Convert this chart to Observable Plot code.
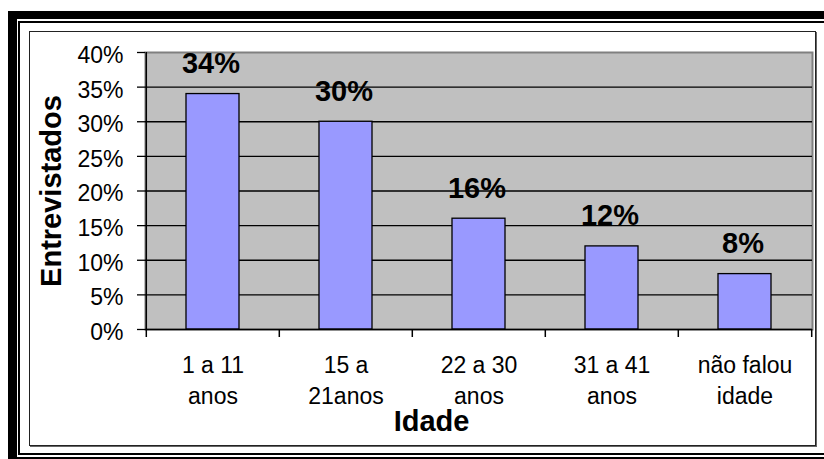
<!DOCTYPE html>
<html>
<head>
<meta charset="utf-8">
<script src="https://cdn.jsdelivr.net/npm/d3@7"></script>
<script src="https://cdn.jsdelivr.net/npm/@observablehq/plot@0.6"></script>
<style>
html, body { margin: 0; padding: 0; background: #fff; }
#wrap { position: relative; width: 824px; height: 459px; overflow: hidden; background: #fff; }
#wrap svg { position: absolute; left: 0; top: 0; }
.deco { position: absolute; box-sizing: content-box; pointer-events: none; z-index: 2; }
#thick { left: 8px; top: 11px; width: 900px; height: 438px; border-left: 9px solid #000; border-top: 8px solid #000; border-bottom: 8px solid #000; }
#thin { left: 18px; top: 21px; width: 900px; height: 430px; border-left: 2px solid #000; border-top: 2px solid #000; border-bottom: 2px solid #000; }
#box { left: 29px; top: 31px; width: 785px; height: 413px; border: 1px solid #222; box-shadow: 1px 1px 0 #666; }
</style>
</head>
<body>
<div id="wrap">
  <div class="deco" id="thick"></div>
  <div class="deco" id="thin"></div>
  <div class="deco" id="box"></div>
</div>
<script>
const categories = ["1 a 11\nanos", "15 a\n21anos", "22 a 30\nanos", "31 a 41\nanos", "não falou\nidade"];
const values = [0.34, 0.30, 0.16, 0.12, 0.08];
const valueLabels = ["34%", "30%", "16%", "12%", "8%"];
const yTicks = [0, 0.05, 0.10, 0.15, 0.20, 0.25, 0.30, 0.35, 0.40];
const yTickLabels = ["0%", "5%", "10%", "15%", "20%", "25%", "30%", "35%", "40%"];
const xTitle = "Idade";
const yTitle = "Entrevistados";

const W = 824, H = 459, ML = 145, MR = 12, MT = 52, MB = 130;
const step = (W - ML - MR) / categories.length;
const data = categories.map((c, i) => ({cat: c, value: values[i], label: valueLabels[i]}));
const font = "'Liberation Sans', Arial, Helvetica, sans-serif";

const chart = Plot.plot({
  width: W, height: H,
  marginLeft: ML, marginRight: MR, marginTop: MT, marginBottom: MB,
  style: {fontFamily: font, fontSize: "23px", color: "#000", background: "transparent", overflow: "visible"},
  x: {type: "band", domain: categories, paddingInner: 0.6, paddingOuter: 0.3, axis: null},
  y: {domain: [0, 0.40]},
  marks: [
    Plot.frame({fill: "#C0C0C0", stroke: "#808080", strokeWidth: 2}),
    Plot.ruleY(yTicks.filter(t => t > 0 && t < 0.40), {stroke: "#000", strokeWidth: 1.3}),
    Plot.barY(data, {x: "cat", y: "value", fill: "#9999FF", stroke: "#000", strokeWidth: 1.3}),
    Plot.ruleY([0], {stroke: "#000", strokeWidth: 1.5}),
    Plot.ruleX([categories[0]], {x: d => d, y1: 0, y2: 0.40, dx: -step / 2, stroke: "#000", strokeWidth: 1.5}),
    Plot.ruleX(categories, {x: d => d, y1: 0, y2: 0, insetTop: 8, dx: -step / 2, stroke: "#000", strokeWidth: 1.5}),
    Plot.ruleX([categories[categories.length - 1]], {x: d => d, y1: 0, y2: 0, insetTop: 8, dx: step / 2, stroke: "#000", strokeWidth: 1.5}),
    Plot.axisY({ticks: yTicks, tickSize: 8, tickFormat: () => "", label: null, stroke: "#000", strokeWidth: 1.3}),
    Plot.text(yTicks, {y: d => d, text: (d, i) => yTickLabels[i], frameAnchor: "left", textAnchor: "end", lineAnchor: "middle", dx: -22, dy: 3, fontSize: 23, fill: "#000"}),
    Plot.text(categories, {x: d => d, frameAnchor: "bottom", textAnchor: "middle", lineAnchor: "top", dy: 21, lineHeight: 31 / 23, fontSize: 23, fill: "#000"}),
    Plot.text(data, {x: "cat", y: "value", text: "label", lineAnchor: "bottom", dy: -21, dx: -2, fontSize: 29, fontWeight: "bold", fill: "#000"}),
    Plot.text([yTitle], {frameAnchor: "left", textAnchor: "middle", lineAnchor: "middle", rotate: -90, dx: -93.3, fontSize: 29, fontWeight: "bold", fill: "#000"}),
    Plot.text([xTitle], {frameAnchor: "bottom", textAnchor: "middle", lineAnchor: "bottom", dx: -47.5, dy: 101, fontSize: 29, fontWeight: "bold", fill: "#000"})
  ]
});
document.getElementById("wrap").appendChild(chart);
</script>
</body>
</html>
